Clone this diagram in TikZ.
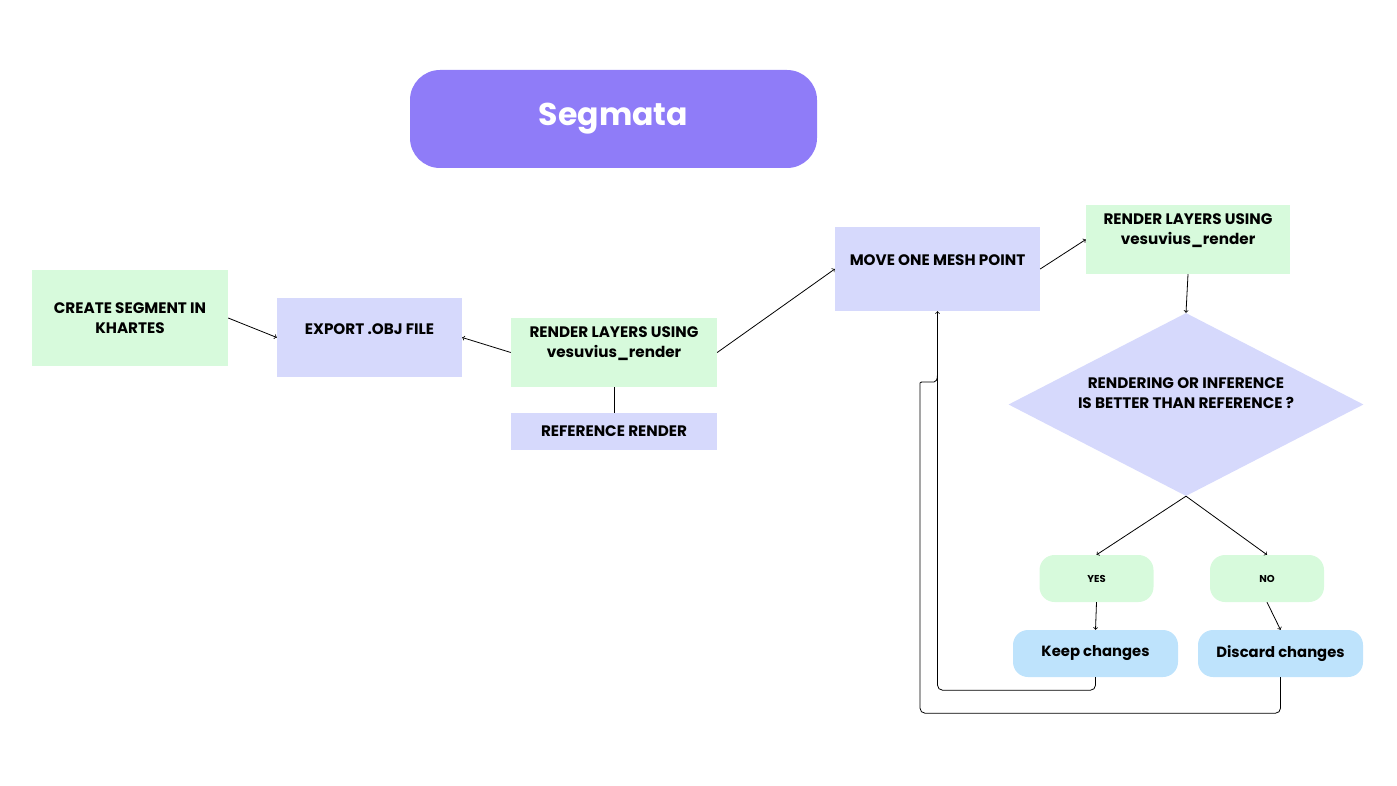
\documentclass[tikz,border=0pt]{standalone}
\usepackage{fontspec}
\setmainfont{Poppins}
\usetikzlibrary{shapes.geometric}
\definecolor{mint}{HTML}{D7FADC}
\definecolor{lilac}{HTML}{D6D9FC}
\definecolor{violet}{HTML}{8F7CF8}
\definecolor{sky}{HTML}{BEE3FC}
\begin{document}
\begin{tikzpicture}[x=1pt, y=-1pt,
  every node/.style={font=\bfseries\fontsize{15.2}{20}\selectfont, align=center, inner sep=0pt},
  greenbox/.style={fill=mint, minimum width=#1},
  bluebox/.style={fill=lilac, minimum width=#1},
  pill/.style={fill=sky, rounded corners=15pt, minimum width=165pt, minimum height=47pt, font=\bfseries\fontsize{14.8}{18}\selectfont},
  answer/.style={fill=mint, rounded corners=15pt, minimum width=114pt, minimum height=47pt, font=\bfseries\fontsize{10}{12}\selectfont},
  link/.style={->, line width=0.8pt}]
\useasboundingbox (0,0) rectangle (1397,786);
% title
\node[fill=violet, text=white, rounded corners=30pt, minimum width=407pt, minimum height=98pt,
  font=\bfseries\fontsize{31.5}{40}\selectfont] (title) at (613.5,119) {Segmata};
% left part
\node[greenbox=196pt, minimum height=96pt] (create) at (130,318) {CREATE SEGMENT IN\\KHARTES};
\node[bluebox=185pt, minimum height=79pt, text depth=17pt] (export) at (369.5,337.5) {EXPORT .OBJ FILE};
\node[greenbox=206pt, minimum height=69pt, text depth=20pt] (render) at (614,352.5) {RENDER LAYERS USING\\vesuvius\_render};
\node[bluebox=206pt, minimum height=37pt] (refr) at (614,431.5) {REFERENCE RENDER};
% loop
\node[bluebox=205pt, minimum height=84pt, text depth=17pt] (move) at (937.5,269) {MOVE ONE MESH POINT};
\node[greenbox=204pt, minimum height=69pt, text depth=20pt] (render2) at (1188,239.5) {RENDER LAYERS USING\\vesuvius\_render};
\node[diamond, fill=lilac, aspect=1.94, minimum width=355pt, minimum height=183pt, text depth=22pt] (check) at (1186,404.5)
  {RENDERING OR INFERENCE\\IS BETTER THAN REFERENCE ?};
\node[answer] (yes) at (1096.5,578.5) {YES};
\node[answer] (no) at (1267,578.5) {NO};
\node[pill] (keep) at (1095.5,653.5) {Keep changes};
\node[pill] (discard) at (1280.5,653.5) {Discard changes};
\coordinate (merge) at (937.5,374);

\draw[link] (create.east) -- (export.west);
\draw[link] (render.west) -- (export.east);
\draw[line width=0.8pt] (render.south) -- (refr.north);
\draw[link] (render.east) -- (move.west);
\draw[link] (move.east) -- (render2.west);
\draw[link] (render2.south) -- (check.north);
\draw[link] (check.south) -- (yes.north);
\draw[link] (check.south) -- (no.north);
\draw[link] (yes.south) -- (keep.north);
\draw[link] (no.south) -- (discard.north);
\draw[link, rounded corners=5pt] (keep.south) -- ++(0,13) -| (move.south);
\draw[line width=0.8pt, rounded corners=5pt] (discard.south) -- ++(0,36) -| (920,388)
  .. controls (920,382) and (922,382) .. (929,382) .. controls (936,382) and (937.5,380) .. (merge);
\end{tikzpicture}
\end{document}
